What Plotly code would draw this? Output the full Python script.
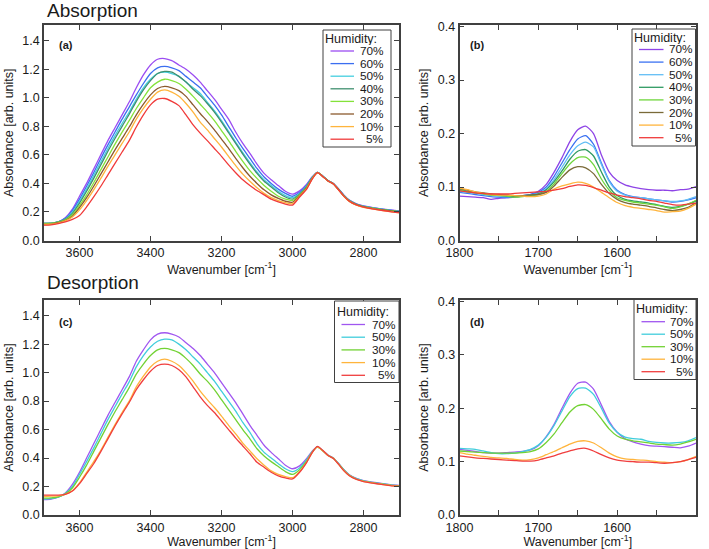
import plotly.graph_objects as go

W, H = 709, 549

# ---------------- data ----------------
wn_oh = [3700, 3680, 3660, 3640, 3620, 3600, 3580, 3560, 3540, 3520, 3500, 3480, 3460, 3440, 3420, 3400, 3380, 3360,
         3340, 3320, 3300, 3280, 3260, 3240, 3220, 3200, 3180, 3160, 3140, 3120, 3100, 3080, 3060, 3040, 3020, 3000,
         2980, 2960, 2945, 2930, 2915, 2900, 2885, 2870, 2855, 2840, 2820, 2800, 2775, 2750, 2725, 2700]

wn_amide = [1800, 1790, 1780, 1770, 1760, 1750, 1740, 1730, 1720, 1710, 1700, 1690, 1680, 1670, 1660, 1650,
            1640, 1630, 1620, 1610, 1600, 1590, 1580, 1570, 1560, 1550, 1540, 1530, 1520, 1510, 1500]

abs_labels = ["70%", "60%", "50%", "40%", "30%", "20%", "10%", " 5%"]
des_labels = ["70%", "50%", "30%", "10%", " 5%"]

# (a) absorption, OH band
abs_oh = {
    "70%": [.115, .118, .130, .160, .220, .310, .400, .500, .600, .700, .790, .880, .970, 1.07, 1.16, 1.23, 1.27, 1.275,
            1.26, 1.23, 1.20, 1.16, 1.11, 1.05, .99, .92, .85, .76, .68, .61, .535, .47, .425, .385, .345, .325,
            .348, .395, .445, .478, .452, .420, .400, .362, .318, .283, .257, .242, .231, .222, .214, .207],
    "60%": [.118, .120, .130, .155, .210, .290, .380, .475, .575, .670, .760, .850, .935, 1.02, 1.10, 1.17, 1.21, 1.22,
            1.21, 1.19, 1.15, 1.11, 1.07, 1.01, .95, .88, .80, .72, .645, .575, .505, .445, .400, .360, .330, .310,
            .338, .388, .442, .478, .452, .420, .399, .360, .316, .281, .255, .240, .229, .220, .212, .205],
    "50%": [.120, .121, .130, .150, .200, .275, .360, .455, .550, .645, .735, .820, .900, .990, 1.07, 1.13, 1.17, 1.18,
            1.17, 1.15, 1.11, 1.07, 1.03, .97, .91, .84, .765, .69, .615, .545, .480, .425, .385, .345, .315, .300,
            .330, .382, .440, .478, .452, .419, .398, .358, .314, .280, .254, .239, .228, .219, .211, .204],
    "40%": [.122, .122, .130, .148, .190, .262, .345, .435, .530, .625, .715, .800, .885, .975, 1.055, 1.12, 1.17, 1.185,
            1.18, 1.15, 1.11, 1.06, 1.015, .96, .90, .83, .755, .68, .605, .535, .470, .415, .375, .335, .305, .290,
            .325, .378, .438, .477, .451, .419, .398, .358, .313, .279, .253, .238, .227, .218, .210, .203],
    "30%": [.118, .120, .128, .145, .180, .245, .320, .405, .495, .585, .675, .760, .840, .925, 1.00, 1.07, 1.11, 1.13,
            1.12, 1.10, 1.06, 1.01, .955, .90, .84, .77, .70, .625, .555, .490, .435, .385, .345, .310, .290, .280,
            .320, .372, .435, .477, .451, .418, .397, .356, .312, .278, .252, .237, .226, .217, .209, .202],
    "20%": [.112, .115, .125, .140, .170, .230, .300, .380, .465, .550, .635, .715, .795, .880, .955, 1.02, 1.065, 1.08,
            1.07, 1.05, 1.01, .95, .89, .835, .775, .71, .645, .575, .51, .45, .40, .355, .32, .295, .275, .268,
            .315, .368, .433, .476, .450, .418, .397, .355, .310, .276, .250, .235, .224, .215, .207, .200],
    "10%": [.112, .114, .122, .138, .165, .215, .280, .355, .435, .520, .600, .680, .760, .850, .925, .990, 1.04, 1.055,
            1.04, 1.01, .96, .90, .83, .775, .715, .655, .59, .525, .465, .415, .37, .33, .30, .28, .265, .258,
            .310, .364, .430, .475, .449, .417, .396, .353, .308, .274, .248, .232, .221, .211, .202, .194],
    " 5%": [.108, .110, .118, .130, .148, .175, .235, .305, .380, .460, .540, .620, .700, .795, .880, .950, .990, .995,
            .975, .945, .88, .81, .752, .70, .645, .59, .53, .475, .425, .385, .35, .32, .29, .27, .255, .248,
            .305, .360, .428, .475, .449, .417, .396, .354, .309, .275, .249, .234, .222, .212, .203, .196],
}

# (b) absorption, amide region
abs_am = {
    "70%": [.083, .082, .081, .080, .077, .079, .080, .081, .083, .086, .092, .105, .128, .155, .185, .207,
            .214, .200, .160, .128, .112, .104, .100, .097, .095, .094, .094, .093, .095, .096, .101],
    "60%": [.090, .088, .086, .084, .082, .081, .080, .082, .084, .086, .090, .100, .120, .145, .170, .190,
            .196, .180, .145, .112, .094, .086, .082, .080, .078, .076, .074, .072, .073, .076, .080],
    "50%": [.092, .090, .088, .086, .084, .083, .082, .083, .084, .085, .088, .097, .114, .137, .160, .177,
            .184, .175, .142, .110, .092, .085, .081, .080, .078, .076, .074, .073, .074, .077, .082],
    "40%": [.095, .092, .090, .088, .086, .085, .083, .082, .083, .085, .087, .095, .110, .130, .152, .167,
            .170, .158, .128, .100, .084, .077, .074, .072, .070, .067, .064, .062, .064, .068, .074],
    "30%": [.094, .091, .089, .087, .085, .084, .083, .081, .082, .084, .086, .092, .106, .125, .143, .155,
            .156, .142, .115, .094, .080, .075, .072, .070, .068, .066, .063, .060, .063, .068, .075],
    "20%": [.097, .094, .091, .089, .087, .086, .085, .084, .084, .085, .086, .090, .102, .118, .132, .138,
            .136, .125, .105, .088, .077, .071, .068, .066, .064, .061, .058, .056, .058, .062, .070],
    "10%": [.098, .095, .091, .088, .086, .085, .085, .084, .083, .082, .083, .087, .096, .102, .106, .109,
            .107, .100, .090, .080, .071, .065, .062, .060, .058, .056, .053, .054, .055, .060, .068],
    " 5%": [.093, .091, .089, .088, .087, .087, .087, .088, .089, .090, .091, .092, .094, .097, .101, .104,
            .103, .099, .094, .089, .085, .082, .080, .078, .075, .073, .070, .067, .066, .068, .070],
}

# (c) desorption, OH band
des_oh = {
    "70%": [.108, .112, .125, .155, .215, .300, .400, .500, .600, .700, .790, .880, .970, 1.08, 1.16, 1.23, 1.27, 1.28,
            1.27, 1.25, 1.21, 1.17, 1.12, 1.06, 1.00, .93, .86, .79, .71, .63, .56, .49, .44, .395, .35, .325,
            .345, .397, .447, .480, .453, .421, .401, .362, .318, .283, .257, .242, .231, .222, .214, .208],
    "50%": [.112, .115, .125, .150, .200, .285, .375, .470, .570, .670, .760, .850, .935, 1.04, 1.12, 1.18, 1.22, 1.235,
            1.23, 1.20, 1.16, 1.11, 1.06, 1.00, .94, .87, .80, .73, .65, .58, .50, .44, .40, .36, .325, .305,
            .330, .388, .443, .479, .452, .420, .400, .360, .316, .281, .255, .240, .229, .220, .212, .206],
    "30%": [.118, .120, .128, .148, .190, .265, .350, .445, .540, .635, .725, .810, .895, .990, 1.06, 1.12, 1.16, 1.17,
            1.16, 1.14, 1.10, 1.05, .99, .94, .88, .81, .74, .67, .60, .535, .465, .415, .375, .34, .305, .285,
            .318, .380, .440, .478, .451, .419, .399, .358, .314, .279, .253, .238, .227, .218, .210, .204],
    "10%": [.130, .132, .135, .145, .170, .225, .300, .375, .455, .545, .635, .720, .800, .900, .975, 1.04, 1.08, 1.095,
            1.08, 1.05, 1.00, .94, .87, .81, .755, .695, .63, .57, .505, .45, .395, .35, .31, .285, .27, .262,
            .305, .372, .437, .478, .451, .418, .398, .356, .311, .277, .251, .236, .225, .216, .208, .202],
    " 5%": [.140, .140, .140, .145, .168, .220, .290, .360, .445, .535, .625, .710, .790, .880, .950, 1.01, 1.05, 1.06,
            1.05, 1.02, .97, .90, .83, .77, .72, .66, .60, .54, .485, .43, .37, .335, .30, .275, .26, .253,
            .300, .370, .437, .482, .455, .418, .397, .355, .310, .276, .250, .235, .224, .215, .207, .201],
}

# (d) desorption, amide region
des_am = {
    "70%": [.123, .121, .119, .117, .116, .116, .117, .118, .119, .122, .130, .147, .170, .200, .228, .247,
            .249, .236, .206, .175, .155, .143, .137, .133, .130, .129, .128, .127, .126, .129, .135],
    "50%": [.125, .124, .123, .120, .117, .115, .115, .116, .119, .123, .131, .146, .168, .195, .222, .237,
            .238, .226, .200, .172, .155, .146, .143, .142, .138, .136, .135, .135, .136, .139, .145],
    "30%": [.120, .119, .118, .117, .116, .116, .116, .116, .117, .119, .124, .136, .152, .173, .193, .205,
            .207, .198, .180, .161, .148, .142, .139, .137, .135, .133, .132, .131, .133, .137, .142],
    "10%": [.117, .114, .112, .110, .108, .107, .106, .104, .103, .104, .107, .113, .119, .126, .133, .138,
            .139, .135, .126, .116, .109, .105, .104, .103, .102, .100, .099, .098, .100, .104, .110],
    " 5%": [.111, .109, .107, .106, .105, .104, .103, .102, .101, .101, .103, .107, .111, .116, .120, .124,
            .125, .120, .113, .107, .103, .101, .100, .099, .099, .098, .097, .098, .100, .104, .108],
}

# ---------------- styles ----------------
abs_colors_a = ["#9B4DF2", "#3B6EF0", "#45CFE0", "#3F8F6F", "#84E23A", "#8B5A2E", "#FFB43C", "#F03A3A"]
abs_colors_b = ["#8E44E6", "#3B72F2", "#62BEF5", "#2F9A62", "#6FD63C", "#7A6A38", "#FFB43C", "#F03A3A"]
des_colors = ["#A056F0", "#40CDDC", "#72D234", "#FFB43C", "#F03E3E"]

FONT = "Liberation Sans, Arial, sans-serif"
TXT = "#1a1a1a"
FRAME = "#404040"
LW = 1.3

fig = go.Figure()


def add_series(data, labels, colors, x, xa, ya):
    for lab, col in zip(labels, colors):
        fig.add_trace(go.Scatter(x=x, y=data[lab], mode="lines", name=lab.strip(),
                                 line=dict(color=col, width=LW, shape="spline", smoothing=0.6),
                                 xaxis=xa, yaxis=ya, showlegend=False))


add_series(abs_oh, abs_labels, abs_colors_a, wn_oh, "x", "y")
add_series(abs_am, abs_labels, abs_colors_b, wn_amide, "x2", "y2")
add_series(des_oh, des_labels, des_colors, wn_oh, "x3", "y3")
add_series(des_am, des_labels, des_colors, wn_amide, "x4", "y4")


def px(v):
    return v / W


def py(v):
    return 1 - v / H


axis_common = dict(showline=True, linecolor=FRAME, linewidth=1.8, mirror="ticks", ticks="inside",
                   ticklen=5, tickwidth=1.2, tickcolor=FRAME, showgrid=False, zeroline=False,
                   automargin=False,
                   tickfont=dict(family=FONT, size=12.5, color=TXT),
                   title_font=dict(family=FONT, size=12.5, color=TXT))

xtitle = "Wavenumber [cm<sup>-1</sup>]"
ytitle = "Absorbance [arb. units]"

left_dom = [px(44), px(399)]
right_dom = [px(459.5), px(696)]
top_dom = [py(240.5), py(25)]
bot_dom = [py(515), py(300)]

oh_x = dict(range=[3700, 2700], tickmode="array", tickvals=[3600, 3400, 3200, 3000, 2800],
            title=dict(text=xtitle, standoff=1))
am_x = dict(range=[1800, 1500], tickmode="array", tickvals=[1800, 1700, 1600, 1500],
            minor=dict(tickmode="array", tickvals=[1750, 1650, 1550], ticks="inside", ticklen=5,
                       tickcolor=FRAME, tickwidth=1.2),
            title=dict(text=xtitle, standoff=1))
oh_y = dict(range=[0, 1.51], tickmode="array", tickvals=[0, 0.2, 0.4, 0.6, 0.8, 1.0, 1.2, 1.4],
            tickformat=".1f", title=dict(text=ytitle, standoff=6))
am_y = dict(range=[0, 0.403], tickmode="array", tickvals=[0, 0.1, 0.2, 0.3, 0.4],
            tickformat=".1f", title=dict(text=ytitle, standoff=6))

fig.update_layout(
    width=W, height=H, margin=dict(l=0, r=0, t=0, b=0, autoexpand=False),
    paper_bgcolor="white", plot_bgcolor="white", showlegend=False,
    font=dict(family=FONT, color=TXT),
    xaxis=dict(domain=left_dom, anchor="y", **oh_x, **axis_common),
    yaxis=dict(domain=top_dom, anchor="x", **oh_y, **axis_common),
    xaxis2=dict(domain=right_dom, anchor="y2", **am_x, **axis_common),
    yaxis2=dict(domain=top_dom, anchor="x2", **am_y, **axis_common),
    xaxis3=dict(domain=left_dom, anchor="y3", **oh_x, **axis_common),
    yaxis3=dict(domain=bot_dom, anchor="x3", **oh_y, **axis_common),
    xaxis4=dict(domain=right_dom, anchor="y4", **am_x, **axis_common),
    yaxis4=dict(domain=bot_dom, anchor="x4", **am_y, **axis_common),
)

# section titles
for text, yy in [("Absorption", 11), ("Desorption", 282)]:
    fig.add_annotation(x=px(45), y=py(yy), xref="paper", yref="paper", text=text, showarrow=False,
                       xanchor="left", yanchor="middle", font=dict(family=FONT, size=19, color=TXT))

# panel labels
for text, (xx, yy) in [("(a)", (66, 44.5)), ("(b)", (477, 44.5)), ("(c)", (66, 322)), ("(d)", (477, 322))]:
    fig.add_annotation(x=px(xx), y=py(yy), xref="paper", yref="paper", text="<b>" + text + "</b>",
                       showarrow=False, xanchor="center", yanchor="middle",
                       font=dict(family=FONT, size=11, color=TXT))


def add_legend(box, labels, colors, title_xy, first, step, sx0, sx1, tx1):
    x0, x1, y0, y1 = box
    fig.add_shape(type="rect", xref="paper", yref="paper", x0=px(x0), x1=px(x1), y0=py(y1), y1=py(y0),
                  line=dict(color=FRAME, width=1), fillcolor="white", layer="above")
    fig.add_annotation(x=px(title_xy[0]), y=py(title_xy[1]), xref="paper", yref="paper", text="Humidity:",
                       showarrow=False, xanchor="left", yanchor="middle", height=13, borderpad=0,
                       font=dict(family=FONT, size=12.5, color=TXT))
    for i, (lab, col) in enumerate(zip(labels, colors)):
        yy = first + i * step
        fig.add_shape(type="line", xref="paper", yref="paper", x0=px(sx0), x1=px(sx1), y0=py(yy), y1=py(yy),
                      line=dict(color=col, width=LW), layer="above")
        fig.add_annotation(x=px(tx1), y=py(yy), xref="paper", yref="paper", text=lab.strip(),
                           showarrow=False, xanchor="right", yanchor="middle", height=12, borderpad=0,
                           font=dict(family=FONT, size=11.8, color=TXT))


add_legend((323, 391, 30, 147), abs_labels, abs_colors_a, (324, 38), 51, 12.6, 330.5, 354, 385)
add_legend((632, 695.5, 29, 146), abs_labels, abs_colors_b, (633, 37), 49.5, 12.6, 639, 663.5, 694)
add_legend((334.5, 399, 301, 382.5), des_labels, des_colors, (336, 311), 324.5, 12.7, 341.5, 365, 397)
add_legend((634, 696, 299.5, 379.5), des_labels, des_colors, (635, 308.5), 321.7, 12.5, 641.5, 665, 695)

fig.write_html("out.html", config={"displayModeBar": False},
               post_script="document.body.style.margin='0px';document.body.style.overflow='hidden';")
